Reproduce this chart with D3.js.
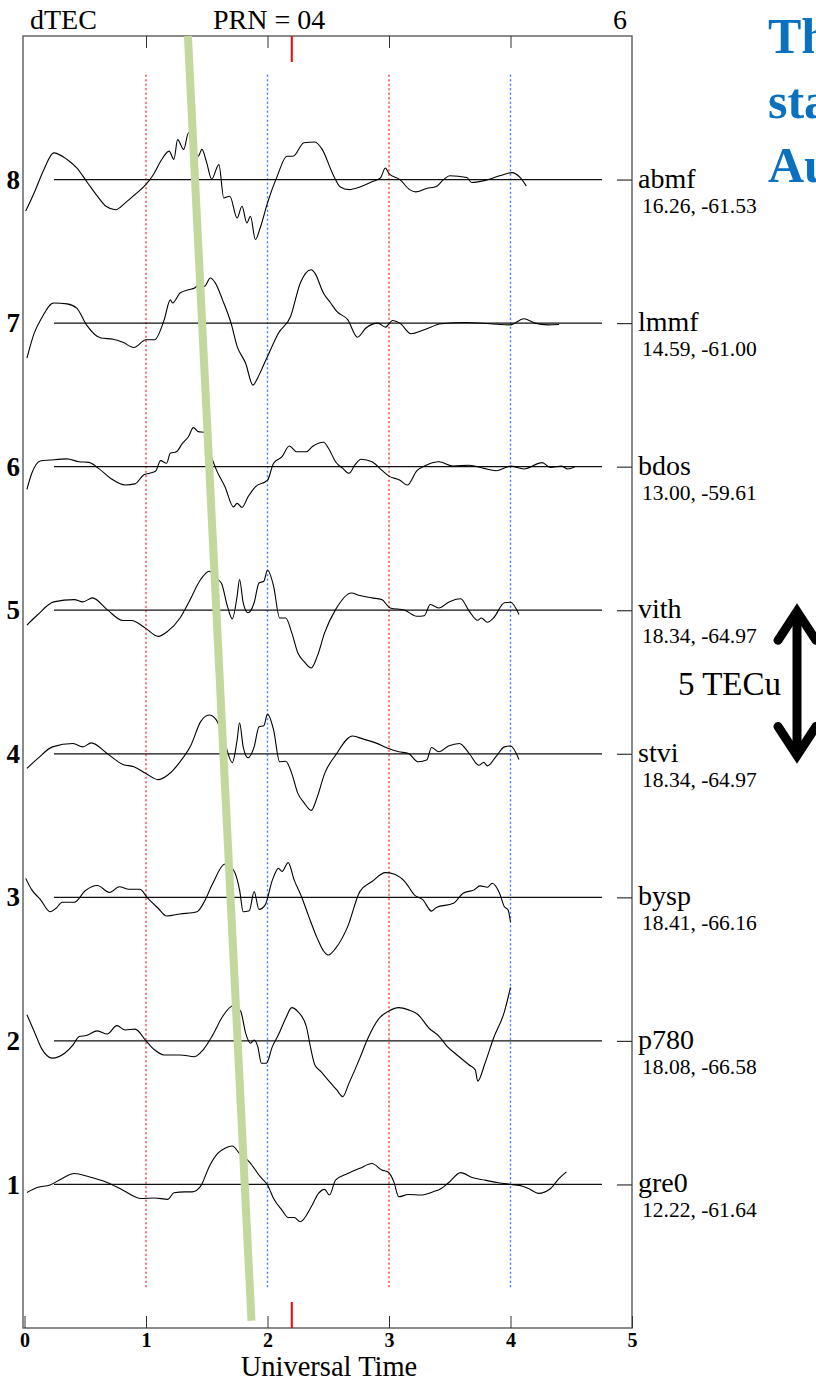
<!DOCTYPE html>
<html lang="en">
  <head>
    <meta charset="utf-8" />
    <title>dTEC PRN 04</title>
    <script src="https://d3js.org/d3.v7.js"></script>
    <style>
      body { margin: 0; background: #fff; }
      text { font-family: "Liberation Serif", "DejaVu Serif", serif; }
    </style>
  </head>
  <body>
    <script>

    // stations, from top to bottom
    var stations = ["abmf", "lmmf", "bdos", "vith", "stvi", "bysp", "p780", "gre0"];
    var coords = ["16.26, -61.53", "14.59, -61.00", "13.00, -59.61", "18.34, -64.97",
                  "18.34, -64.97", "18.41, -66.16", "18.08, -66.58", "12.22, -61.64"];
    var offsets = [8, 7, 6, 5, 4, 3, 2, 1];
    var xTicks = [0, 1, 2, 3, 4, 5];
    var redMarks = [1, 3];
    var blueMarks = [2, 4];
    var eventTime = 2.2;
    var tecPerUnit = 5;
    var slantLine = [[1.345, 9], [1.868, 0.05]];

    // dTEC series, [UT hours, TECu]
    var abmf = [[0.01,-1.1],[0.08,-0.46],[0.16,0.35],[0.24,0.93],[0.35,0.7],[0.43,0.41],[0.52,-0.12],
      [0.6,-0.58],[0.67,-0.93],[0.75,-1.05],[0.83,-0.81],[0.91,-0.52],[1.0,-0.17],[1.06,0.17],[1.13,0.7],
      [1.19,0.99],[1.23,0.7],[1.26,1.39],[1.31,1.05],[1.35,1.63],[1.43,0.81],[1.46,1.05],[1.5,0.58],
      [1.54,0.02],[1.6,0.52],[1.64,-0.64],[1.69,-0.58],[1.75,-1.34],[1.79,-0.93],[1.83,-1.51],[1.86,-1.28],
      [1.9,-2.09],[1.94,-1.68],[2.0,-0.81],[2.08,0.12],[2.16,0.81],[2.21,0.81],[2.3,1.28],[2.39,1.31],
      [2.45,1.05],[2.54,0.17],[2.6,-0.26],[2.67,-0.35],[2.76,-0.26],[2.87,-0.06],[2.93,0.06],[2.97,0.4],
      [3.0,0.21],[3.09,0],[3.17,-0.35],[3.22,-0.43],[3.31,-0.31],[3.39,-0.24],[3.45,0],[3.5,0.13],
      [3.64,0.07],[3.68,-0.1],[3.8,-0.02],[3.91,0.13],[4.01,0.24],[4.08,0.07],[4.13,-0.22]];
    var lmmf = [[0.02,-1.22],[0.08,-0.35],[0.14,0.17],[0.24,0.7],[0.35,0.67],[0.43,0.52],[0.51,-0.06],
      [0.63,-0.52],[0.73,-0.56],[0.81,-0.67],[0.9,-0.85],[1.0,-0.58],[1.07,-0.58],[1.15,0.12],[1.2,0.81],
      [1.22,0.7],[1.28,1.05],[1.35,1.16],[1.4,1.22],[1.45,1.4],[1.48,1.28],[1.53,1.57],[1.57,1.4],
      [1.63,0.81],[1.7,0],[1.75,-0.81],[1.82,-1.4],[1.88,-2.16],[1.92,-1.9],[1.95,-1.63],[2.0,-1.16],
      [2.09,-0.35],[2.19,0.23],[2.27,1.4],[2.36,1.86],[2.39,1.74],[2.46,1.05],[2.52,0.7],[2.57,0.41],
      [2.66,0.12],[2.74,-0.49],[2.81,-0.17],[2.91,0],[2.97,-0.14],[3.03,0.09],[3.09,0],[3.18,-0.37],
      [3.29,-0.23],[3.43,-0.02],[3.63,0.02],[3.83,-0.02],[4.0,-0.06],[4.11,0.15],[4.2,0],[4.31,-0.06],
      [4.4,-0.05]];
    var bdos = [[0.02,-0.79],[0.06,-0.23],[0.13,0.2],[0.21,0.23],[0.35,0.27],[0.45,0.17],[0.53,0.15],
      [0.61,-0.06],[0.71,-0.41],[0.83,-0.64],[0.91,-0.6],[0.98,-0.29],[1.03,-0.23],[1.08,-0.15],[1.12,0.21],
      [1.17,0.12],[1.2,0.47],[1.25,0.52],[1.3,0.81],[1.35,1.05],[1.39,1.36],[1.43,1.22],[1.48,1.2],
      [1.52,0.58],[1.58,-0.12],[1.65,-0.7],[1.72,-1.4],[1.75,-1.28],[1.79,-1.42],[1.84,-1.05],[1.9,-0.7],
      [2.0,-0.47],[2.05,0.12],[2.12,0.35],[2.18,0.72],[2.24,0.52],[2.32,0.52],[2.37,0.7],[2.46,0.85],
      [2.51,0.58],[2.56,0.17],[2.62,-0.06],[2.67,-0.23],[2.72,0.06],[2.77,0.26],[2.86,0.17],[2.94,-0.12],
      [3.0,-0.33],[3.09,-0.47],[3.15,-0.64],[3.23,-0.14],[3.31,0.06],[3.41,0.17],[3.53,0.02],[3.66,0.05],
      [3.78,-0.06],[3.88,-0.14],[4.0,0.02],[4.11,-0.08],[4.26,0.14],[4.33,-0.03],[4.42,0.02],[4.47,-0.08],
      [4.53,0]];
    var vith = [[0.02,-0.52],[0.11,-0.15],[0.24,0.29],[0.41,0.37],[0.48,0.29],[0.56,0.43],[0.68,0.02],
      [0.81,-0.36],[0.88,-0.36],[1.0,-0.64],[1.1,-0.91],[1.18,-0.73],[1.28,-0.27],[1.35,0.26],[1.45,1.07],
      [1.52,1.36],[1.57,1.13],[1.62,0.95],[1.67,0.14],[1.71,-0.3],[1.75,0.49],[1.77,1.07],[1.8,0.26],
      [1.84,-0.09],[1.89,0.26],[1.93,0.95],[1.97,1.01],[2.0,1.4],[2.05,0.84],[2.1,-0.27],[2.15,-0.27],
      [2.2,-0.79],[2.25,-1.49],[2.3,-1.78],[2.36,-2.01],[2.41,-1.6],[2.47,-0.79],[2.56,0.02],[2.69,0.6],
      [2.76,0.51],[2.86,0.43],[2.94,0.37],[3.01,0.08],[3.13,0],[3.23,-0.21],[3.29,-0.19],[3.34,0.2],
      [3.41,0.08],[3.49,0.28],[3.59,0.4],[3.66,-0.03],[3.73,-0.35],[3.76,-0.27],[3.81,-0.42],[3.86,-0.27],
      [3.95,0.26],[4.0,0.28],[4.07,-0.15]];
    var stvi = [[0.02,-0.51],[0.11,-0.16],[0.23,0.24],[0.4,0.36],[0.48,0.24],[0.55,0.38],[0.68,0.01],
      [0.81,-0.37],[0.9,-0.45],[1.0,-0.69],[1.1,-0.9],[1.18,-0.74],[1.28,-0.28],[1.37,0.3],[1.45,1.12],
      [1.52,1.35],[1.58,1.17],[1.65,0.36],[1.71,-0.31],[1.75,0.48],[1.77,1.08],[1.8,0.24],[1.84,-0.14],
      [1.89,0.24],[1.93,0.94],[1.97,0.98],[2.0,1.38],[2.05,0.83],[2.1,-0.28],[2.15,-0.26],[2.2,-0.69],
      [2.25,-1.38],[2.3,-1.7],[2.36,-1.97],[2.41,-1.5],[2.47,-0.69],[2.56,-0.05],[2.7,0.62],[2.79,0.51],
      [2.89,0.38],[2.99,0.19],[3.08,0.07],[3.16,0.01],[3.24,-0.28],[3.31,-0.22],[3.35,0.22],[3.41,0.07],
      [3.49,0.27],[3.58,0.36],[3.66,0.01],[3.74,-0.4],[3.78,-0.3],[3.81,-0.42],[3.88,-0.1],[3.95,0.24],
      [4.0,0.27],[4.07,-0.2]];
    var bysp = [[0.01,0.66],[0.06,0.26],[0.13,-0.07],[0.21,-0.5],[0.26,-0.38],[0.31,-0.17],[0.41,-0.17],
      [0.5,0.23],[0.6,0.41],[0.7,0.17],[0.78,0.37],[0.86,0.28],[0.95,0.28],[1.01,-0.01],[1.1,-0.38],
      [1.17,-0.65],[1.28,-0.58],[1.42,-0.5],[1.48,-0.15],[1.55,0.49],[1.65,1.16],[1.72,0.95],[1.77,0.26],
      [1.8,-0.5],[1.85,-0.47],[1.89,0.2],[1.93,-0.42],[1.98,-0.27],[2.04,0.6],[2.09,1.01],[2.12,0.9],
      [2.17,1.21],[2.22,0.6],[2.28,0.02],[2.34,-0.67],[2.41,-1.43],[2.46,-1.86],[2.5,-2.01],[2.56,-1.78],
      [2.66,-1.02],[2.76,0.2],[2.86,0.55],[2.97,0.86],[3.04,0.81],[3.13,0.55],[3.21,0.08],[3.28,-0.09],
      [3.35,-0.48],[3.39,-0.35],[3.53,-0.21],[3.61,0.14],[3.7,0.26],[3.75,0.4],[3.81,0.35],[3.85,0.49],
      [3.91,0.14],[3.95,-0.33],[3.98,-0.44],[4.0,-0.85]];
    var p780 = [[0.02,0.91],[0.08,0.33],[0.14,-0.26],[0.23,-0.6],[0.33,-0.43],[0.4,-0.14],[0.45,0.15],
      [0.51,0.19],[0.6,0.35],[0.68,0.24],[0.76,0.53],[0.83,0.38],[0.91,0.41],[1.0,0],[1.07,-0.31],
      [1.15,-0.49],[1.28,-0.49],[1.4,-0.55],[1.47,-0.31],[1.55,0.21],[1.63,0.85],[1.72,1.23],[1.78,1.02],
      [1.82,0.27],[1.86,-0.08],[1.89,0.03],[1.92,-0.2],[1.95,-0.78],[1.99,-0.78],[2.04,-0.2],[2.09,0.21],
      [2.15,0.79],[2.2,1.16],[2.25,1.02],[2.32,0.5],[2.35,-0.14],[2.39,-0.84],[2.44,-1.07],[2.51,-1.42],
      [2.57,-1.71],[2.62,-1.94],[2.67,-1.48],[2.76,-0.6],[2.82,0.03],[2.92,0.79],[2.99,1.02],[3.08,1.16],
      [3.16,1.08],[3.24,0.91],[3.33,0.44],[3.41,0.17],[3.48,-0.2],[3.56,-0.49],[3.66,-0.84],[3.71,-1.01],
      [3.73,-1.4],[3.79,-0.78],[3.86,0.09],[3.95,1.02],[4.0,1.86]];
    var gre0 = [[0.02,-0.28],[0.11,-0.1],[0.21,-0.02],[0.31,0.21],[0.41,0.38],[0.53,0.27],[0.68,0.07],
      [0.81,-0.2],[0.96,-0.49],[1.07,-0.47],[1.18,-0.52],[1.23,-0.29],[1.32,-0.26],[1.38,-0.26],[1.45,-0.06],
      [1.52,0.62],[1.59,1.08],[1.65,1.26],[1.71,1.34],[1.77,1.08],[1.85,0.79],[1.94,0.27],[2.0,-0.02],
      [2.05,-0.49],[2.12,-0.9],[2.17,-1.15],[2.22,-1.15],[2.27,-1.3],[2.36,-0.78],[2.42,-0.31],[2.47,-0.17],
      [2.51,-0.37],[2.56,0.15],[2.66,0.38],[2.76,0.56],[2.86,0.73],[2.94,0.5],[2.99,0.44],[3.04,0.09],
      [3.08,-0.43],[3.16,-0.35],[3.26,-0.37],[3.36,-0.26],[3.43,-0.14],[3.49,0.06],[3.59,0.41],[3.69,0.23],
      [3.79,0.15],[3.9,0.06],[4.0,0],[4.1,-0.06],[4.16,-0.17],[4.23,-0.31],[4.33,-0.14],[4.4,0.21],
      [4.46,0.44]];
    var series = [abmf, lmmf, bdos, vith, stvi, bysp, p780, gre0];

    var w = 816, h = 1382;
    var svg = d3.select("body").append("svg")
      .attr("width", w)
      .attr("height", h);

    svg.append("rect").attr("width", w).attr("height", h).attr("fill", "#fff");

    var x = d3.scaleLinear().domain([0, 5]).range([24.5, 632]);
    var y = d3.scaleLinear().domain([0, 9]).range([1328, 36]);

    // dotted time markers
    var markTop = 8.73, markBottom = 0.27;
    svg.selectAll(".mark")
      .data(redMarks.map(d => ({t: d, c: "#ff3b3b"})).concat(blueMarks.map(d => ({t: d, c: "#3b78ff"}))))
      .join("line")
        .attr("x1", d => x(d.t)).attr("x2", d => x(d.t))
        .attr("y1", y(markTop)).attr("y2", y(markBottom))
        .attr("stroke", d => d.c)
        .attr("stroke-width", 1.4)
        .attr("stroke-dasharray", "2,2.5");

    // reference lines for each station
    svg.selectAll(".ref")
      .data(offsets)
      .join("line")
        .attr("x1", x(0.243)).attr("x2", x(4.753))
        .attr("y1", d => y(d)).attr("y2", d => y(d))
        .attr("stroke", "#111")
        .attr("stroke-width", 1.2);

    // dTEC curves
    var line = d3.line()
      .x(d => x(d[0]))
      .y(d => d.y)
      .curve(d3.curveMonotoneX);

    series.forEach(function (s, i) {
      var pts = s.map(d => { var p = [d[0], d[1]]; p.y = y(offsets[i] + d[1] / tecPerUnit); return p; });
      svg.append("path")
        .attr("d", line(pts))
        .attr("fill", "none")
        .attr("stroke", "#000")
        .attr("stroke-width", 1.1)
        .attr("stroke-linejoin", "round");
    });

    // frame
    svg.append("rect")
      .attr("x", 23).attr("y", y(9))
      .attr("width", x(5) - 23).attr("height", y(0) - y(9))
      .attr("fill", "none")
      .attr("stroke", "#666")
      .attr("stroke-width", 1.5);

    // axes
    var bottomAxis = svg.append("g")
      .attr("transform", `translate(0,${y(0)})`)
      .call(d3.axisBottom(x).tickValues(xTicks).tickFormat(d3.format("d")).tickSizeInner(-12).tickSizeOuter(0).tickPadding(5));
    bottomAxis.select(".domain").remove();
    bottomAxis.selectAll("line").attr("stroke", "#333");
    bottomAxis.attr("font-size", 20).attr("font-family", "Liberation Serif");
    bottomAxis.selectAll("text")
      .style("font-size", "20px").attr("font-weight", "bold")
      .attr("fill", "#000");

    var topAxis = svg.append("g")
      .attr("transform", `translate(0,${y(9)})`)
      .call(d3.axisTop(x).tickValues([1, 2, 3, 4]).tickFormat("").tickSizeInner(-12).tickSizeOuter(0));
    topAxis.select(".domain").remove();
    topAxis.selectAll("line").attr("stroke", "#333");

    var leftAxis = svg.append("g")
      .attr("transform", "translate(23,0)")
      .call(d3.axisLeft(y).tickValues(offsets).tickFormat(d3.format("d")).tickSize(0).tickPadding(3));
    leftAxis.select(".domain").remove();
    leftAxis.attr("font-size", 27).attr("font-family", "Liberation Serif");
    leftAxis.selectAll("text")
      .style("font-size", "27px").attr("font-weight", "bold")
      .attr("fill", "#000");

    var rightAxis = svg.append("g")
      .attr("transform", `translate(${x(5)},0)`)
      .call(d3.axisRight(y).tickValues(offsets).tickFormat("").tickSizeInner(-15).tickSizeOuter(0));
    rightAxis.select(".domain").remove();
    rightAxis.selectAll("line").attr("stroke", "#333").attr("stroke-width", 1.2);

    // event marker
    [[y(9), y(9) + 26], [y(0) - 26, y(0)]].forEach(function (seg) {
      svg.append("line")
        .attr("x1", x(eventTime)).attr("x2", x(eventTime))
        .attr("y1", seg[0]).attr("y2", seg[1])
        .attr("stroke", "#ff0000")
        .attr("stroke-width", 2);
    });

    // slanted band
    svg.append("line")
      .attr("x1", x(slantLine[0][0])).attr("y1", y(slantLine[0][1]))
      .attr("x2", x(slantLine[1][0])).attr("y2", y(slantLine[1][1]))
      .attr("stroke", "#c3d89c")
      .attr("stroke-width", 8);

    // station labels
    stations.forEach(function (s, i) {
      svg.append("text")
        .attr("x", 638).attr("y", y(offsets[i]) + 8)
        .attr("font-size", 28)
        .text(s);
      svg.append("text")
        .attr("x", 642).attr("y", y(offsets[i]) + 33)
        .attr("font-size", 21.5)
        .text(coords[i]);
    });

    // titles
    svg.append("text").attr("x", 30).attr("y", 29).attr("font-size", 28).text("dTEC");
    svg.append("text").attr("x", 213).attr("y", 29).attr("font-size", 28).text("PRN = 04");
    svg.append("text").attr("x", 627).attr("y", 29).attr("font-size", 28)
      .attr("text-anchor", "end").text("6");
    svg.append("text").attr("x", 329).attr("y", 1376).attr("font-size", 28.5)
      .attr("text-anchor", "middle").text("Universal Time");

    // 5 TECu scale arrow
    var aTop = y(5.02), aBot = y(3.96), ax = 797;
    svg.append("line")
      .attr("x1", ax).attr("x2", ax).attr("y1", aTop + 6).attr("y2", aBot - 6)
      .attr("stroke", "#000").attr("stroke-width", 9);
    svg.append("path")
      .attr("d", `M${ax - 19},${aTop + 33}L${ax},${aTop + 4}L${ax + 19},${aTop + 33}`)
      .attr("fill", "none").attr("stroke", "#000").attr("stroke-width", 9)
      .attr("stroke-linecap", "round").attr("stroke-linejoin", "miter");
    svg.append("path")
      .attr("d", `M${ax - 19},${aBot - 33}L${ax},${aBot - 4}L${ax + 19},${aBot - 33}`)
      .attr("fill", "none").attr("stroke", "#000").attr("stroke-width", 9)
      .attr("stroke-linecap", "round").attr("stroke-linejoin", "miter");
    svg.append("text").attr("x", 678).attr("y", 695).attr("font-size", 33).text("5 TECu");

    // slide heading, cut off at the page edge
    ["Th", "sta", "Au"].forEach(function (t, i) {
      svg.append("text")
        .attr("x", 768).attr("y", 53 + i * 64.5)
        .attr("font-size", 50).attr("font-weight", "bold")
        .attr("fill", "#0a70c0")
        .text(t);
    });

    </script>
  </body>
</html>
